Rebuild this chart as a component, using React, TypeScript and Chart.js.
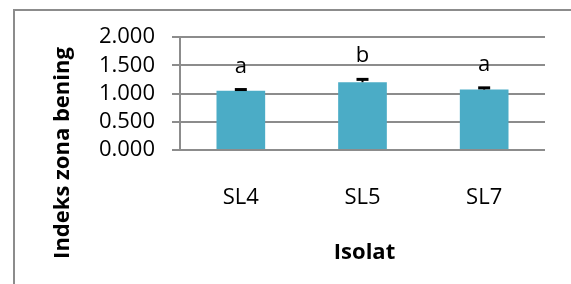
import React, { useEffect, useRef } from "react";
import { Chart, registerables } from "chart.js";

Chart.register(...registerables);

const categories = ["SL4", "SL5", "SL7"];
const values = [1.05, 1.2, 1.07];
const errors = [0.02, 0.05, 0.03];
const sigLetters = ["a", "b", "a"];
const yTitle = "Indeks zona bening";
const xTitle = "Isolat";

const FONT = "'Open Sans', 'Liberation Sans', sans-serif";
const GRID = "#8c8c8c";

const overlay = {
  id: "overlay",
  beforeDraw(chart: any) {
    const ctx = chart.ctx;
    ctx.save();
    ctx.strokeStyle = GRID;
    ctx.lineWidth = 2;
    ctx.strokeRect(14, 10, 700, 400);
    ctx.restore();
  },
  afterDatasetsDraw(chart: any) {
    const ctx = chart.ctx;
    const meta = chart.getDatasetMeta(0);
    const ys = chart.scales.y;
    ctx.save();
    meta.data.forEach((bar: any, i: number) => {
      const x = bar.x;
      const top = ys.getPixelForValue(values[i] + errors[i]);
      const base = ys.getPixelForValue(values[i]);
      ctx.strokeStyle = "#000";
      ctx.lineWidth = 2;
      ctx.beginPath();
      ctx.moveTo(x, base);
      ctx.lineTo(x, top);
      ctx.stroke();
      ctx.lineWidth = 3;
      ctx.beginPath();
      ctx.moveTo(x - 6, top);
      ctx.lineTo(x + 6, top);
      ctx.stroke();
      ctx.fillStyle = "#000";
      ctx.font = `22px ${FONT}`;
      ctx.textAlign = "center";
      ctx.textBaseline = "alphabetic";
      ctx.fillText(sigLetters[i], x, top - 17);
    });
    ctx.font = `bold 22px ${FONT}`;
    ctx.textAlign = "center";
    ctx.textBaseline = "middle";
    ctx.fillText(xTitle, 364.5, 253);
    ctx.translate(63, 153);
    ctx.rotate(-Math.PI / 2);
    ctx.fillText(yTitle, 0, 0);
    ctx.restore();
  },
};

export default function App() {
  const ref = useRef<HTMLCanvasElement>(null);
  useEffect(() => {
    if (!ref.current) return;
    const chart = new Chart(ref.current, {
      type: "bar",
      data: {
        labels: categories,
        datasets: [
          {
            data: values,
            backgroundColor: "#4BACC6",
            categoryPercentage: 1,
            barPercentage: 0.4,
          },
        ],
      },
      options: {
        animation: false,
        responsive: false,
        devicePixelRatio: 1,
        layout: { padding: { left: 0, top: 37, right: 26, bottom: 0 } },
        plugins: { legend: { display: false }, tooltip: { enabled: false } },
        scales: {
          x: {
            grid: { display: false, drawTicks: false },
            border: { display: false },
            ticks: { color: "#000", font: { family: FONT, size: 22 }, padding: 35 },
            afterFit: (s: any) => {
              s.height = 134;
            },
          },
          y: {
            min: 0,
            max: 2,
            ticks: {
              stepSize: 0.5,
              autoSkip: false,
              color: "#000",
              font: { family: FONT, size: 22 },
              padding: 17,
              callback: (v: any) => Number(v).toFixed(3),
            },
            grid: { color: GRID, lineWidth: 2, tickLength: 8 },
            border: { display: true, color: GRID, width: 2 },
            afterFit: (s: any) => {
              s.width = 180;
            },
          },
        },
      },
      plugins: [overlay],
    });
    return () => chart.destroy();
  }, []);
  return (
    <div style={{ position: "absolute", left: 0, top: 0, width: 571, height: 284 }}>
      <canvas ref={ref} width={571} height={284} />
    </div>
  );
}
